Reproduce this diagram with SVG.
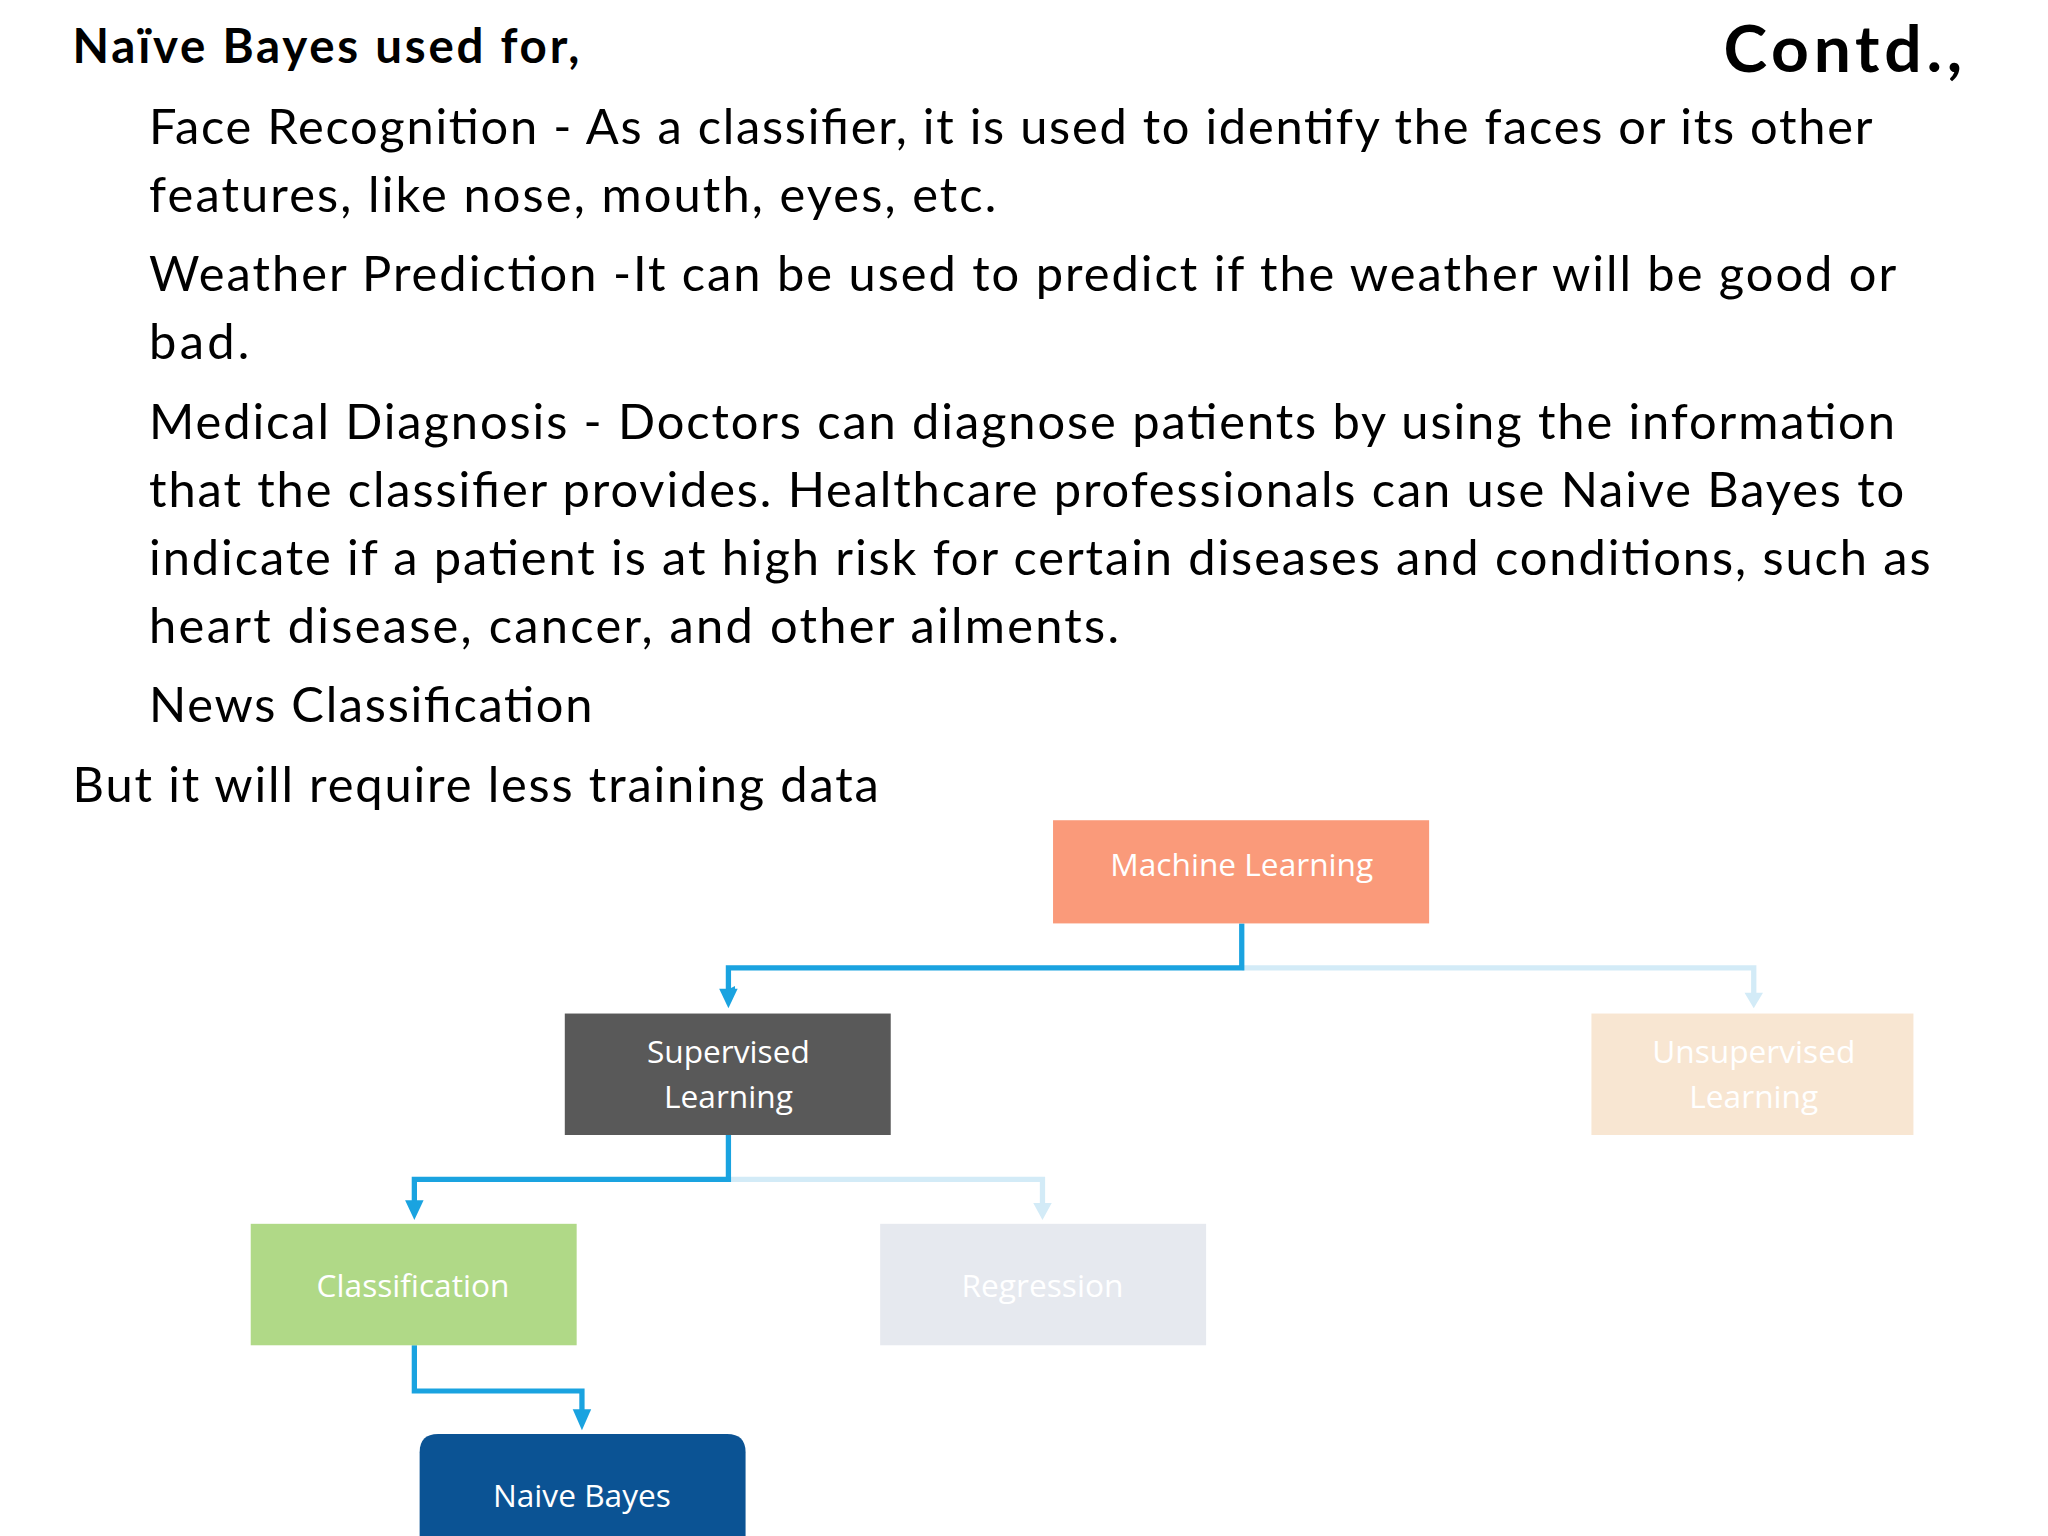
<svg xmlns="http://www.w3.org/2000/svg" width="2048" height="1536" viewBox="0 0 2048 1536">
<style>
.t{font-family:Lato,"Open Sans",sans-serif;font-size:37px;fill:#000}
.b{font-family:Lato,"Open Sans",sans-serif;font-weight:bold;fill:#000}
.n{font-family:"Open Sans",sans-serif;font-size:24px;fill:#fff;text-anchor:middle}
.c{fill:none;stroke:#1AA3E0;stroke-width:4}
.cl{fill:none;stroke:#D3EBF7;stroke-width:4}
</style>
<defs>
<marker id="a" markerWidth="6" markerHeight="6" refX="3" refY="5" orient="auto" markerUnits="userSpaceOnUse" viewBox="0 0 6 6"><path d="M0,0 L6,0 L3,6z" fill="#1AA3E0"/></marker>
</defs>
<rect width="2048" height="1536" fill="#fff"/>
<g transform="scale(1.3196,1.3061)">
<g id="text">
<text class="b" x="55" y="48" font-size="36" textLength="384">Naïve Bayes used for,</text>
<text class="b" x="1306" y="55" font-size="50" textLength="181">Contd.,</text>
<text class="t" x="113" y="110" textLength="1306">Face Recognition - As a classifier, it is used to identify the faces or its other</text>
<text class="t" x="113" y="162" textLength="642">features, like nose, mouth, eyes, etc.</text>
<text class="t" x="113" y="223" textLength="1324">Weather Prediction -It can be used to predict if the weather will be good or</text>
<text class="t" x="113" y="275" textLength="76">bad.</text>
<text class="t" x="113" y="336" textLength="1323">Medical Diagnosis - Doctors can diagnose patients by using the information</text>
<text class="t" x="113" y="388" textLength="1330">that the classifier provides. Healthcare professionals can use Naive Bayes to</text>
<text class="t" x="113" y="440" textLength="1350">indicate if a patient is at high risk for certain diseases and conditions, such as</text>
<text class="t" x="113" y="492" textLength="735">heart disease, cancer, and other ailments.</text>
<text class="t" x="113" y="553" textLength="336">News Classification</text>
<text class="t" x="55" y="614" textLength="611">But it will require less training data</text>
</g>
<g id="connectors">
<path class="cl" d="M941,741 H1329 V762"/>
<path d="M1322,760 L1336,760 L1329,772z" fill="#D3EBF7"/>
<path class="cl" d="M552,903 H790 V922"/>
<path d="M783,921 L797,921 L790,934z" fill="#D3EBF7"/>
<path class="c" d="M941,707 V741 H552 V758" marker-end="url(#a)" />
<path d="M545,757 L559,757 L552,772z" fill="#1AA3E0"/>
<path class="c" d="M552,869 V903 H314 V920"/>
<path d="M307,919 L321,919 L314,934z" fill="#1AA3E0"/>
<path class="c" d="M314,1030 V1065 H441 V1080"/>
<path d="M434,1079 L448,1079 L441,1095z" fill="#1AA3E0"/>
</g>
<g id="ml"><rect x="798" y="628" width="285" height="79" fill="#FA9A7A"/><text class="n" x="941" y="671">Machine Learning</text></g>
<g id="sup"><rect x="428" y="776" width="247" height="93" fill="#595959"/><text class="n" x="552" y="814">Supervised</text><text class="n" x="552" y="848">Learning</text></g>
<g id="unsup"><rect x="1206" y="776" width="244" height="93" fill="#F8E6D2"/><text class="n" x="1329" y="814">Unsupervised</text><text class="n" x="1329" y="848">Learning</text></g>
<g id="cls"><rect x="190" y="937" width="247" height="93" fill="#B0D987"/><text class="n" x="313" y="993">Classification</text></g>
<g id="reg"><rect x="667" y="937" width="247" height="93" fill="#E6E9EF"/><text class="n" x="790" y="993">Regression</text></g>
<g id="nb"><path d="M318,1200 V1112 Q318,1098 332,1098 H551 Q565,1098 565,1112 V1200z" fill="#0B5394"/><text class="n" x="441" y="1154">Naive Bayes</text></g>
</g>
</svg>
